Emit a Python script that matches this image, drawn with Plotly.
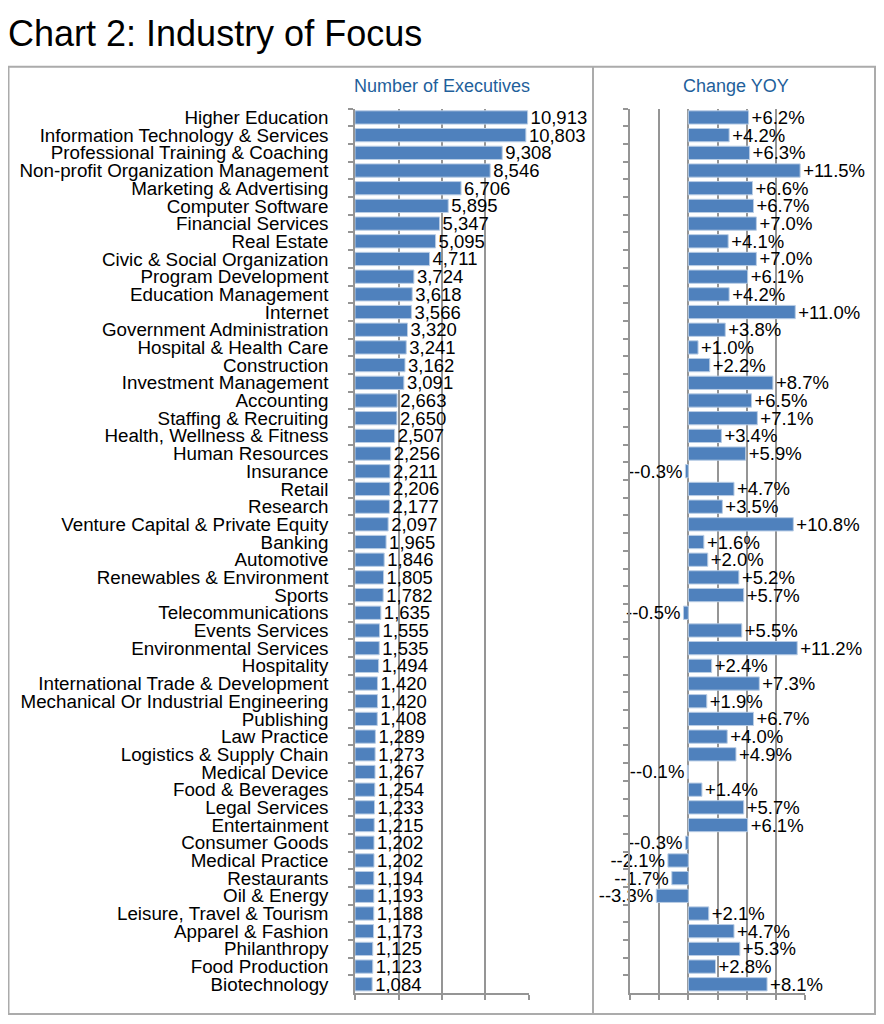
import plotly.graph_objects as go

categories = [
    "Higher Education", "Information Technology & Services", "Professional Training & Coaching",
    "Non-profit Organization Management", "Marketing & Advertising", "Computer Software",
    "Financial Services", "Real Estate", "Civic & Social Organization", "Program Development",
    "Education Management", "Internet", "Government Administration", "Hospital & Health Care",
    "Construction", "Investment Management", "Accounting", "Staffing & Recruiting",
    "Health, Wellness & Fitness", "Human Resources", "Insurance", "Retail", "Research",
    "Venture Capital & Private Equity", "Banking", "Automotive", "Renewables & Environment",
    "Sports", "Telecommunications", "Events Services", "Environmental Services", "Hospitality",
    "International Trade & Development", "Mechanical Or Industrial Engineering", "Publishing",
    "Law Practice", "Logistics & Supply Chain", "Medical Device", "Food & Beverages",
    "Legal Services", "Entertainment", "Consumer Goods", "Medical Practice", "Restaurants",
    "Oil & Energy", "Leisure, Travel & Tourism", "Apparel & Fashion", "Philanthropy",
    "Food Production", "Biotechnology",
]

executives = [
    10913, 10803, 9308, 8546, 6706, 5895, 5347, 5095, 4711, 3724,
    3618, 3566, 3320, 3241, 3162, 3091, 2663, 2650, 2507, 2256,
    2211, 2206, 2177, 2097, 1965, 1846, 1805, 1782, 1635, 1555,
    1535, 1494, 1420, 1420, 1408, 1289, 1273, 1267, 1254, 1233,
    1215, 1202, 1202, 1194, 1193, 1188, 1173, 1125, 1123, 1084,
]

change_yoy = [
    6.2, 4.2, 6.3, 11.5, 6.6, 6.7, 7.0, 4.1, 7.0, 6.1,
    4.2, 11.0, 3.8, 1.0, 2.2, 8.7, 6.5, 7.1, 3.4, 5.9,
    -0.3, 4.7, 3.5, 10.8, 1.6, 2.0, 5.2, 5.7, -0.5, 5.5,
    11.2, 2.4, 7.3, 1.9, 6.7, 4.0, 4.9, -0.1, 1.4, 5.7,
    6.1, -0.3, -2.1, -1.7, -3.3, 2.1, 4.7, 5.3, 2.8, 8.1,
]

exec_text = [f"{v:,}" for v in executives]
# The source prints a "+" or "-" sign before the (already signed) value.
yoy_text = [f"+{v:.1f}%" if v > 0 else f"-{v:.1f}%" for v in change_yoy]

# page body has an 8px margin: the figure is placed at (8, 8) in the window
OFF = 8
W, H = 884 - OFF, 1024 - OFF
FONT = "Liberation Sans, Arial, Helvetica, sans-serif"
BAR = "#4f81bd"
BAR_EDGE = "#b9cde5"
GRID = "#959595"
FRAME = "#ababab"
HEAD = "#1f5f9b"


def px(x):
    return (x - OFF) / W


def py(y):
    return 1 - (y - OFF) / H


fig = go.Figure()

fig.add_trace(go.Bar(
    x=executives, y=categories, orientation="h",
    marker=dict(color=BAR, line=dict(color=BAR_EDGE, width=1)),
    text=exec_text, textposition="outside", constraintext="none", cliponaxis=False,
    textfont=dict(family=FONT, size=18.5, color="black"),
    xaxis="x", yaxis="y", showlegend=False, hoverinfo="x+y",
))

fig.add_trace(go.Bar(
    x=change_yoy, y=categories, orientation="h",
    marker=dict(color=BAR, line=dict(color=BAR_EDGE, width=1)),
    text=yoy_text, textposition="outside", constraintext="none", cliponaxis=False,
    textfont=dict(family=FONT, size=18.5, color="black"),
    xaxis="x2", yaxis="y2", showlegend=False, hoverinfo="x+y",
))

y_top, y_bot = 107, 995

common_x = dict(
    showgrid=True, gridcolor=GRID, gridwidth=1.5,
    showline=True, linecolor=GRID, linewidth=1.5,
    ticks="outside", ticklen=5, tickcolor=GRID, tickwidth=1.5,
    showticklabels=False, fixedrange=True,
)
common_y = dict(
    type="category", autorange="reversed",
    showline=True, linecolor=GRID, linewidth=1.5,
    ticks="outside", ticklen=5, tickcolor=GRID, tickwidth=1.5,
    tickson="boundaries", tickmode="linear", tick0=0, dtick=1,
    showgrid=False, fixedrange=True,
)

fig.update_layout(
    width=W, height=H,
    margin=dict(l=0, r=0, t=0, b=0),
    paper_bgcolor="white", plot_bgcolor="white",
    font=dict(family=FONT, size=18, color="black"),
    bargap=0.25,
    xaxis=dict(domain=[px(355), px(529)], range=[0, 11000.5], tick0=0, dtick=2750,
               zeroline=False, anchor="y", **common_x),
    yaxis=dict(domain=[py(y_bot), py(y_top)], anchor="x",
               showticklabels=True, ticklabelstandoff=21,
               tickfont=dict(family=FONT, size=18.8, color="black"), **common_y),
    xaxis2=dict(domain=[px(630), px(805)], range=[-6, 12.001], tick0=-6, dtick=3,
                zeroline=True, zerolinecolor=GRID, zerolinewidth=1.5, anchor="y2", **common_x),
    yaxis2=dict(domain=[py(y_bot), py(y_top)], anchor="x2", showticklabels=False, **common_y),
    shapes=[
        dict(type="rect", xref="paper", yref="paper",
             x0=px(8.5), x1=px(875), y0=py(1016), y1=py(65),
             line=dict(color=FRAME, width=2), fillcolor="rgba(0,0,0,0)", layer="below"),
        dict(type="line", xref="paper", yref="paper",
             x0=px(593), x1=px(593), y0=py(1016), y1=py(65),
             line=dict(color=FRAME, width=2)),
    ],
    annotations=[
        dict(text="Chart 2: Industry of Focus", xref="paper", yref="paper",
             x=px(6), y=py(32), xanchor="left", yanchor="middle", showarrow=False,
             font=dict(family=FONT, size=36, color="black")),
        dict(text="Number of Executives", xref="paper", yref="paper",
             x=px(442), y=py(84), xanchor="center", yanchor="middle", showarrow=False,
             font=dict(family=FONT, size=18, color=HEAD)),
        dict(text="Change YOY", xref="paper", yref="paper",
             x=px(736), y=py(84), xanchor="center", yanchor="middle", showarrow=False,
             font=dict(family=FONT, size=18, color=HEAD)),
    ],
)

fig.write_html("out.html")
